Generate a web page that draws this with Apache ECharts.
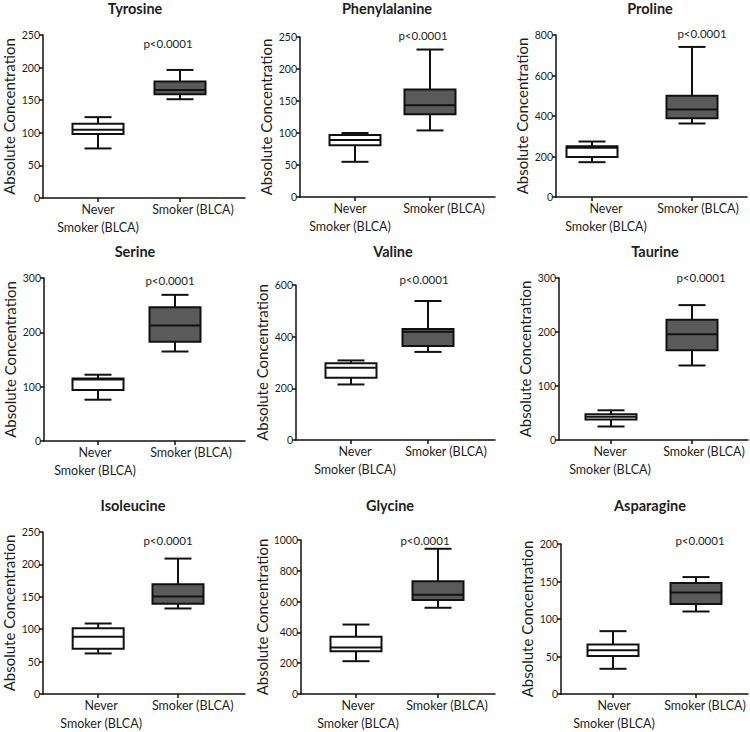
<!DOCTYPE html>
<html><head><meta charset="utf-8">
<script src="https://cdn.jsdelivr.net/npm/echarts@6/dist/echarts.min.js"></script>
<style>html,body{margin:0;padding:0;background:#fff}#c{width:750px;height:732px}</style>
</head><body><div id="c"></div>
<script>
// ---------- data ----------
const analytes = ['Tyrosine','Phenylalanine','Proline','Serine','Valine','Taurine','Isoleucine','Glycine','Asparagine'];
const groups = ['Never\nSmoker (BLCA)', 'Smoker (BLCA)'];
const pValueText = 'p<0.0001';
// five-number summaries: [min, Q1, median, Q3, max]
const neverSmokerBoxes = [
  [76, 98, 104.6, 113.8, 124],
  [55, 81, 89, 97, 100],
  [172, 198, 243, 251, 274],
  [76, 94, 113, 115, 122],
  [215, 241, 280, 297, 308],
  [25, 38, 43, 47.6, 55],
  [62.6, 69.8, 88.3, 101.6, 108.8],
  [213, 277, 302, 372, 451],
  [33.6, 50.7, 58.5, 66, 83.8]
];
const smokerBoxes = [
  [151.5, 159.2, 165.8, 178.6, 196.4],
  [104, 129.4, 143.3, 168, 230.4],
  [363, 389, 432, 500, 741],
  [164.7, 182.5, 212.7, 246, 269],
  [341, 364, 419, 430, 538],
  [138, 166.4, 196, 222.6, 249.8],
  [132, 139.1, 150.4, 169.4, 209],
  [560, 611, 645, 732, 943],
  [110, 120, 135.4, 148, 155.9]
];
const yAxisMax  = [250, 250, 800, 300, 600, 300, 250, 1000, 200];
const yAxisStep = [50, 50, 200, 100, 200, 100, 50, 200, 50];

// ---------- layout (pixels) ----------
const panelLayout = [
  {left:43,  right:245, top:35,  bottom:198, boxX:[98,180],  labelX:[98,193],  title:[135,8],   p:[168,43]},
  {left:300, right:495, top:37,  bottom:197, boxX:[355,430], labelX:[350,444], title:[387,8],   p:[423,35]},
  {left:556, right:747, top:35,  bottom:197, boxX:[592,692], labelX:[606,698], title:[650,8],   p:[702,33]},
  {left:44,  right:245, top:278, bottom:441, boxX:[98,175],  labelX:[95,191],  title:[135,251], p:[170,280]},
  {left:296, right:495, top:285, bottom:440, boxX:[351,428], labelX:[355,446], title:[393,251], p:[424,279]},
  {left:559, right:748, top:278, bottom:440, boxX:[611,692], labelX:[610,704], title:[655,251], p:[701,277]},
  {left:40,  right:245, top:532, bottom:695, boxX:[96,177],  labelX:[99,192],  title:[133,505], p:[168,540]},
  {left:301, right:495, top:540, bottom:696, boxX:[356,438], labelX:[358,447], title:[390,505], p:[425,540]},
  {left:561, right:748, top:544, bottom:696, boxX:[613,696], labelX:[614,705], title:[650,505], p:[700,540]}
];
const FONT = 'Lato';
const INK = '#1e1e1e';
const BOX_W = 51, CAP_W = 27;
const FILLS = ['#ffffff', '#5a5a5a'];

function renderBox(params, api) {
  const x = api.value(0);
  const p = [1,2,3,4,5].map(d => api.coord([x, api.value(d)]));
  const cx = p[0][0];
  const yMin = p[0][1], yQ1 = p[1][1], yMed = p[2][1], yQ3 = p[3][1], yMax = p[4][1];
  const hw = BOX_W / 2, cw = CAP_W / 2;
  const ls = {stroke: '#111', lineWidth: 2};
  return {type: 'group', children: [
    {type: 'line', shape: {x1: cx, y1: yMax, x2: cx, y2: yQ3}, style: ls},
    {type: 'line', shape: {x1: cx, y1: yQ1, x2: cx, y2: yMin}, style: ls},
    {type: 'line', shape: {x1: cx - cw, y1: yMax, x2: cx + cw, y2: yMax}, style: ls},
    {type: 'line', shape: {x1: cx - cw, y1: yMin, x2: cx + cw, y2: yMin}, style: ls},
    {type: 'rect', shape: {x: cx - hw, y: yQ3, width: BOX_W, height: yQ1 - yQ3},
      style: {fill: FILLS[params.dataIndex], stroke: '#111', lineWidth: 2}},
    {type: 'line', shape: {x1: cx - hw, y1: yMed, x2: cx + hw, y2: yMed}, style: ls}
  ]};
}

const grids = [], xAxes = [], yAxes = [], series = [], graphics = [];
analytes.forEach((name, i) => {
  const L = panelLayout[i];
  const span = L.right - L.left;
  grids.push({left: L.left, top: L.top, width: span, height: L.bottom - L.top});
  const labelVals = L.labelX.map(v => v - L.left);
  const boxVals = L.boxX.map(v => v - L.left);
  xAxes.push({
    gridIndex: i, type: 'value', min: 0, max: span,
    axisLine: {show: true, onZero: false, lineStyle: {color: '#111', width: 1.5}},
    axisTick: {show: true, customValues: boxVals, length: 4, lineStyle: {color: '#111', width: 1.5}},
    splitLine: {show: false},
    axisLabel: {
      customValues: labelVals,
      formatter: v => (Math.abs(v - labelVals[0]) < 0.5 ? groups[0] : groups[1]),
      fontFamily: FONT, fontSize: 12.5, lineHeight: 18, margin: 2, color: INK, align: 'center'
    }
  });
  yAxes.push({
    gridIndex: i, type: 'value', min: 0, max: yAxisMax[i], interval: yAxisStep[i],
    name: 'Absolute Concentration', nameLocation: 'middle', nameGap: 27,
    nameTextStyle: {fontFamily: FONT, fontSize: 15, color: INK},
    axisLine: {show: true, lineStyle: {color: '#111', width: 1.5}},
    axisTick: {show: true, length: 4, lineStyle: {color: '#111', width: 1.5}},
    axisLabel: {fontFamily: FONT, fontSize: 10.5, color: INK, margin: 3, formatter: v => String(v)},
    splitLine: {show: false}
  });
  series.push({
    type: 'custom', xAxisIndex: i, yAxisIndex: i,
    encode: {x: 0, y: [1, 2, 3, 4, 5]},
    data: [
      [boxVals[0]].concat(neverSmokerBoxes[i]),
      [boxVals[1]].concat(smokerBoxes[i])
    ],
    renderItem: renderBox
  });
  graphics.push({type: 'text', x: L.title[0], y: L.title[1],
    style: {text: name, align: 'center', verticalAlign: 'middle', fontFamily: FONT, fontWeight: 'bold', fontSize: 14.5, fill: INK}});
  graphics.push({type: 'text', x: L.p[0], y: L.p[1],
    style: {text: pValueText, align: 'center', verticalAlign: 'middle', fontFamily: FONT, fontSize: 11.5, fill: INK}});
});

const chart = echarts.init(document.getElementById('c'), null, {renderer: 'svg'});
chart.setOption({
  animation: false,
  backgroundColor: '#fff',
  grid: grids, xAxis: xAxes, yAxis: yAxes, series: series, graphic: graphics
});
</script>
</body></html>
